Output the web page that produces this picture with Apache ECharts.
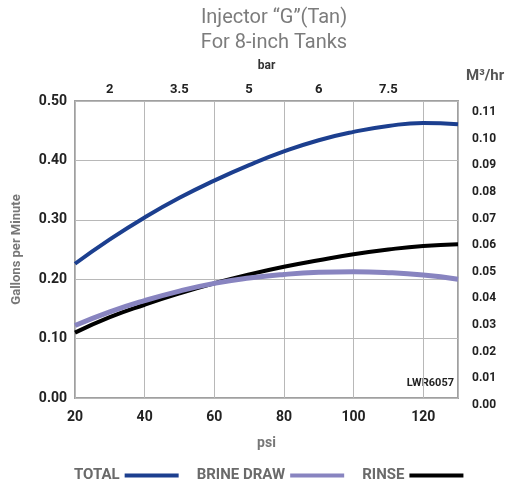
<!DOCTYPE html>
<html>
<head>
<meta charset="utf-8">
<script src="https://cdn.jsdelivr.net/npm/echarts@6/dist/echarts.min.js"></script>
<style>html,body{margin:0;padding:0;background:#fff}#c{width:508px;height:483px}</style>
</head>
<body>
<div id="c"></div>
<script>
var psi = [20, 30, 40, 50, 60, 70, 80, 90, 100, 110, 120, 130];
var total = [0.226, 0.267, 0.304, 0.337, 0.366, 0.392, 0.415, 0.434, 0.448, 0.458, 0.463, 0.461];
var brineDraw = [0.122, 0.145, 0.164, 0.180, 0.193, 0.202, 0.208, 0.2115, 0.2125, 0.211, 0.207, 0.200];
var rinse = [0.110, 0.136, 0.157, 0.176, 0.193, 0.208, 0.221, 0.232, 0.242, 0.250, 0.256, 0.259];
var barTickPsi = [30, 50, 70, 90, 110];
var barTickLabels = ['2', '3.5', '5', '6', '7.5'];
var seriesNames = ['TOTAL', 'BRINE DRAW', 'RINSE'];

function pairs(arr) { return psi.map(function (p, i) { return [p, arr[i]]; }); }

var chart = echarts.init(document.getElementById('c'));
var FONT = 'Roboto, "Liberation Sans", sans-serif';
chart.setOption({
  animation: false,
  textStyle: { fontFamily: FONT },
  graphic: [
    { type: 'text', x: 274, y: 8, style: { text: 'Injector \u201cG\u201d(Tan)', fill: '#7c7c7c', font: 'normal 20px ' + FONT, textAlign: 'center' } },
    { type: 'text', x: 274, y: 33, style: { text: 'For 8-inch Tanks', fill: '#7c7c7c', font: 'normal 20px ' + FONT, textAlign: 'center' } },
    { type: 'text', x: 454, y: 378, style: { text: 'LWR6057', fill: '#222', font: 'bold 11px ' + FONT, textAlign: 'right' } }
  ],
  grid: [
    { left: 75, right: 50, top: 101, bottom: 85, show: true, borderColor: '#a0a0a0', borderWidth: 2 },
    { left: 75, right: 50, top: 112, bottom: 78 }
  ],
  legend: {
    top: 463, left: 69, align: 'right',
    itemWidth: 54, itemHeight: 4, itemGap: 18, icon: 'rect',
    textStyle: { color: '#6a6a6a', fontWeight: 'bold', fontSize: 15, fontFamily: FONT },
    data: seriesNames
  },
  xAxis: [
    { type: 'value', gridIndex: 0, position: 'bottom', min: 20, max: 130, interval: 20,
      name: 'psi', nameLocation: 'middle', nameGap: 38,
      nameTextStyle: { color: '#777', fontWeight: 'bold', fontSize: 14 },
      axisLine: { show: false }, axisTick: { show: false },
      axisLabel: { color: '#222', fontWeight: 'bold', fontSize: 14, margin: 12,
        formatter: function (v) { return v > 120 ? '' : String(v); } },
      splitLine: { show: true, lineStyle: { color: '#b8b8b8', width: 1 } } },
    { type: 'value', gridIndex: 0, position: 'top', min: 20, max: 130, interval: 10,
      name: 'bar', nameLocation: 'middle', nameGap: 29,
      nameTextStyle: { color: '#333', fontWeight: 'bold', fontSize: 12 },
      axisLine: { show: false }, axisTick: { show: false }, splitLine: { show: false },
      axisLabel: { color: '#222', fontWeight: 'bold', fontSize: 13, margin: 5,
        formatter: function (v) { var i = barTickPsi.indexOf(v); return i >= 0 ? barTickLabels[i] : ''; } } },
    { type: 'value', gridIndex: 1, min: 20, max: 130, show: false }
  ],
  yAxis: [
    { type: 'value', gridIndex: 0, min: 0, max: 0.5, interval: 0.1,
      name: 'Gallons per Minute', nameLocation: 'middle', nameGap: 52,
      nameTextStyle: { color: '#777', fontWeight: 'bold', fontSize: 13 },
      axisLine: { show: false }, axisTick: { show: false },
      axisLabel: { color: '#222', fontWeight: 'bold', fontSize: 14, margin: 8,
        formatter: function (v) { return v.toFixed(2); } },
      splitLine: { show: true, lineStyle: { color: '#b8b8b8', width: 1 } } },
    { type: 'value', gridIndex: 1, position: 'right', min: 0, max: 0.11, interval: 0.01,
      name: 'M\u00b3/hr', nameLocation: 'end', nameGap: 28,
      nameTextStyle: { color: '#555', fontWeight: 'bold', fontSize: 15, align: 'left', padding: [0, 0, 0, 8] },
      axisLine: { show: false }, axisTick: { show: false }, splitLine: { show: false },
      axisLabel: { color: '#222', fontWeight: 'bold', fontSize: 12, margin: 14,
        formatter: function (v) { return v.toFixed(2); } } }
  ],
  series: [
    { name: seriesNames[0], type: 'line', smooth: true, showSymbol: false, symbol: 'none',
      data: pairs(total), color: '#1c3f8f', lineStyle: { width: 4, color: '#1c3f8f' }, z: 3 },
    { name: seriesNames[1], type: 'line', smooth: true, showSymbol: false, symbol: 'none',
      data: pairs(brineDraw), color: '#8884c0', lineStyle: { width: 5, color: '#8884c0' }, z: 3 },
    { name: seriesNames[2], type: 'line', smooth: true, showSymbol: false, symbol: 'none',
      data: pairs(rinse), color: '#000000', lineStyle: { width: 4, color: '#000' }, z: 2 }
  ]
});
</script>
</body>
</html>
